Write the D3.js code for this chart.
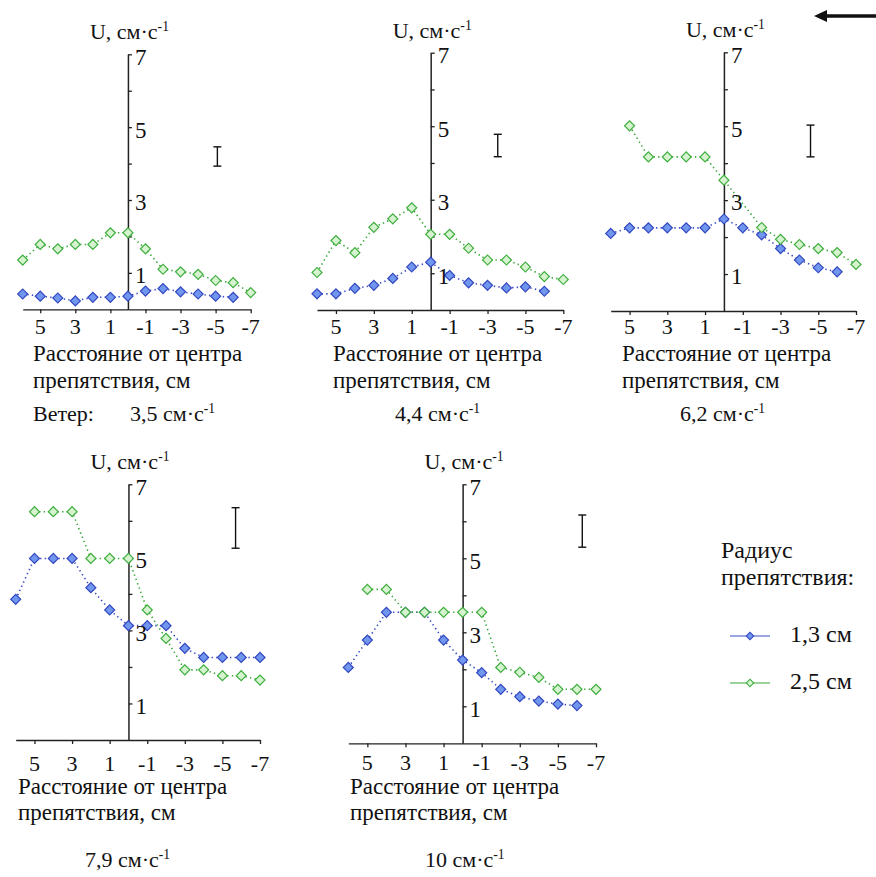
<!DOCTYPE html>
<html><head><meta charset="utf-8">
<script src="https://cdn.jsdelivr.net/npm/d3@7/dist/d3.min.js"></script>
<style>
html,body{margin:0;padding:0;background:#fff;}
</style></head>
<body>
<svg id="chart" width="876" height="877" font-family="Liberation Serif, Times New Roman, DejaVu Serif, serif"></svg>
<script>
// ---------- data ----------
const distances = [6,5,4,3,2,1,0,-1,-2,-3,-4,-5,-6,-7];
const xTickValues = [5,3,1,-1,-3,-5,-7];
const yTickValues = [1,2,3,4,5,6,7];
const yLabelValues = [1,3,5,7];
const windSpeeds = ["3,5","4,4","6,2","7,9","10"];
const seriesNames = ["1,3 см","2,5 см"];

const r13 = [
  [0.42,0.36,0.31,0.23,0.33,0.33,0.36,0.50,0.57,0.48,0.42,0.36,0.33,null],
  [0.44,0.44,0.59,0.67,0.86,1.17,1.30,0.94,0.74,0.67,0.60,0.63,0.51,null],
  [2.10,2.25,2.25,2.25,2.25,2.25,2.49,2.25,2.06,1.69,1.38,1.17,1.06,null],
  [3.85,4.97,4.97,4.97,4.17,3.56,3.13,3.13,3.13,2.51,2.26,2.26,2.26,2.26],
  [2.05,2.79,3.54,3.54,3.54,2.79,2.25,1.91,1.46,1.26,1.14,1.06,1.02,null]
];
const r25 = [
  [1.35,1.78,1.66,1.78,1.78,2.10,2.10,1.66,1.10,1.03,0.96,0.79,0.73,0.46],
  [1.02,1.89,1.56,2.25,2.48,2.78,2.06,2.06,1.68,1.36,1.36,1.17,0.91,0.83],
  [null,5.01,4.17,4.17,4.17,4.17,3.54,null,2.26,1.94,1.80,1.69,1.58,1.26],
  [null,6.25,6.25,6.25,4.97,4.97,4.97,3.56,2.78,1.92,1.92,1.76,1.76,1.64],
  [null,4.16,4.16,3.54,3.54,3.54,3.54,3.54,2.05,1.92,1.78,1.46,1.46,1.46]
];
const errorBarX = [-5.1,-3.54,-4.59,-5.7,-6.28];
const errorBarLow = [3.93,4.17,4.17,5.25,5.30];
const errorBarHigh = [4.46,4.78,5.03,6.36,6.17];

// ---------- layout ----------
const layout = [
  {l:22.7, r:250.7, t:54.3, b:309.3, tickY:334, xlX:33,  xl1:361, xl2:388, wX:130, wY:421, veter:true},
  {l:317,  r:563.3, t:52.7, b:310,   tickY:334, xlX:333, xl1:361, xl2:388, wX:395, wY:421},
  {l:610.7,r:856,   t:52.3, b:311,   tickY:334, xlX:622, xl1:361, xl2:388, wX:680, wY:421},
  {l:15.7, r:260,   t:484.3,b:740,   tickY:771, xlX:18,  xl1:794, xl2:820, wX:85,  wY:867},
  {l:348.3,r:596,   t:484.3,b:743.3, tickY:770, xlX:350, xl1:794, xl2:820, wX:425, wY:867}
];
const colors = {
  blueLine:"#3a4cc8", blueFill:"#7096ee", blueStroke:"#3448c0",
  greenLine:"#3aa83a", greenFill:"#d6f3cf", greenStroke:"#3fae3f"
};
const FONT = "Liberation Serif, Times New Roman, DejaVu Serif, serif";

const svg = d3.select("#chart");
const diamond = d3.symbol().type(d3.symbolSquare).size(50);

function txt(sel, x, y, size){
  return sel.append("text").attr("x",x).attr("y",y).attr("font-size",size)
    .attr("font-family",FONT).attr("fill","#111");
}
function addUnit(sel, prefix){
  sel.append("tspan").text(prefix + "см·с");
  sel.append("tspan").attr("dy",-8).attr("font-size","0.62em").text("-1");
}

layout.forEach((L,i)=>{
  const x = d3.scaleLinear().domain([6,-7]).range([L.l,L.r]);
  const y = d3.scaleLinear().domain([0,7]).range([L.b,L.t]);
  const g = svg.append("g");
  const x0 = x(0);

  // x axis
  const xa = g.append("g").attr("transform",`translate(0,${L.b})`)
    .call(d3.axisBottom(x).tickValues(xTickValues).tickSize(4).tickSizeOuter(0).tickFormat(""));
  xa.select(".domain").attr("stroke","#222").attr("stroke-width",1.3);
  xa.selectAll(".tick line").attr("stroke","#222").attr("stroke-width",1.3);
  xTickValues.forEach(d=>{
    txt(g, x(d), L.tickY, 22).attr("text-anchor","middle").text(String(d));
  });

  // y axis
  const ya = g.append("g").attr("transform",`translate(${x0},0)`)
    .call(d3.axisRight(y).tickValues(yTickValues).tickSize(4).tickSizeOuter(0).tickFormat(""));
  ya.select(".domain").attr("stroke","#222").attr("stroke-width",1.5);
  ya.selectAll(".tick line").attr("stroke","#222").attr("stroke-width",1.3);

  // title
  const tt = txt(g, x0-38, L.t-15, 22);
  tt.append("tspan").text("U, ");
  addUnit(tt,"");

  // series
  const defs = [
    {vals:r13[i], line:colors.blueLine, fill:colors.blueFill, stroke:colors.blueStroke},
    {vals:r25[i], line:colors.greenLine, fill:colors.greenFill, stroke:colors.greenStroke}
  ];
  defs.forEach(s=>{
    const pts = distances.map((d,k)=>({d, v:s.vals[k]})).filter(p=>p.v!==null);
    g.append("path").datum(pts)
      .attr("d", d3.line().x(p=>x(p.d)).y(p=>y(p.v)))
      .attr("fill","none").attr("stroke",s.line).attr("stroke-width",1.6)
      .attr("stroke-dasharray","1.4,3.2");
    g.append("g").selectAll("path").data(pts).join("path")
      .attr("d",diamond)
      .attr("transform",p=>`translate(${x(p.d)},${y(p.v)}) rotate(45)`)
      .attr("fill",s.fill).attr("stroke",s.stroke).attr("stroke-width",1.2);
  });

  // y labels on top
  yLabelValues.forEach(d=>{
    txt(g, x0+7, y(d), 23).attr("dy","0.45em").text(String(d));
  });

  // error bar
  const ex = x(errorBarX[i]), ylo = y(errorBarLow[i]), yhi = y(errorBarHigh[i]);
  const eb = g.append("g").attr("stroke","#111").attr("stroke-width",1.4);
  eb.append("line").attr("x1",ex).attr("x2",ex).attr("y1",ylo).attr("y2",yhi);
  eb.append("line").attr("x1",ex-4).attr("x2",ex+4).attr("y1",ylo).attr("y2",ylo);
  eb.append("line").attr("x1",ex-4).attr("x2",ex+4).attr("y1",yhi).attr("y2",yhi);

  // x labels
  txt(g, L.xlX, L.xl1, 23).text("Расстояние от центра");
  txt(g, L.xlX, L.xl2, 23).text("препятствия, см");

  // wind
  if(L.veter){
    txt(g, L.xlX, L.wY, 22).text("Ветер:");
  }
  const wt = txt(g, L.wX, L.wY, 22);
  addUnit(wt, windSpeeds[i] + " ");
});

// legend
const lg = svg.append("g");
txt(lg, 721, 558, 24).text("Радиус");
txt(lg, 721, 585, 24).text("препятствия:");
const legItems = [
  {name:seriesNames[0], line:colors.blueLine, fill:colors.blueFill, stroke:colors.blueStroke, y:636},
  {name:seriesNames[1], line:colors.greenLine, fill:colors.greenFill, stroke:colors.greenStroke, y:683}
];
legItems.forEach(it=>{
  lg.append("line").attr("x1",730).attr("x2",770).attr("y1",it.y).attr("y2",it.y)
    .attr("stroke",it.line).attr("stroke-width",1.2);
  lg.append("path").attr("d",d3.symbol().type(d3.symbolSquare).size(28))
    .attr("transform",`translate(750,${it.y}) rotate(45)`)
    .attr("fill",it.fill).attr("stroke",it.stroke).attr("stroke-width",1.1);
  txt(lg, 790, it.y+6, 24).text(it.name);
});

// arrow (flow direction)
const ar = svg.append("g");
ar.append("line").attr("x1",876).attr("x2",822).attr("y1",16).attr("y2",16)
  .attr("stroke","#111").attr("stroke-width",3.5);
ar.append("path").attr("d","M814,16 L827,10 L827,22 Z").attr("fill","#111");
</script>
</body></html>
